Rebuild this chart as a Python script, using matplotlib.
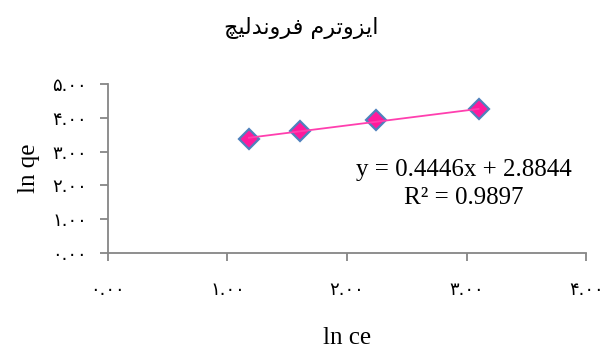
import numpy as np
import matplotlib
matplotlib.use("Agg")
from matplotlib import pyplot as plt
from matplotlib.ticker import FixedLocator

# data
ln_ce = [1.18, 1.61, 2.24, 3.10]
ln_qe = [3.38, 3.62, 3.92, 4.25]
slope = 0.4446
intercept = 2.8844
r_squared = 0.9897

x_ticks = [0, 1, 2, 3, 4]
y_ticks = [0, 1, 2, 3, 4, 5]

# title "ایزوترم فروندلیچ" written with arabic presentation forms, in visual order
title_forms = "\uFE8D\uFBFE\uFEB0\uFEED\uFE97\uFEAE\uFEE1 \uFED3\uFEAE\uFEED\uFEE7\uFEAA\uFEDF\uFBFF\uFB7B"
title_text = title_forms[::-1]

PERSIAN_DIGITS = "۰۱۲۳۴۵۶۷۸۹"


def persian_label(v):
    s = "%.2f" % v
    return "".join(PERSIAN_DIGITS[int(c)] if c.isdigit() else c for c in s)


fig = plt.figure(figsize=(6.03, 3.47), dpi=100)
ax = fig.add_axes([0.179, 0.271, 0.793, 0.487])

fit_x = np.array([ln_ce[0], ln_ce[-1]])
ax.plot(fit_x, slope * fit_x + intercept, color="#FF3FAF", lw=1.3, zorder=3)
ax.plot(ln_ce, ln_qe, ls="none", marker="D", ms=10, mfc="#FF1A9C",
        mec="#4F81BD", mew=1.6, zorder=2)

ax.set_xlim(0, 4)
ax.set_ylim(0, 5)
ax.xaxis.set_major_locator(FixedLocator(x_ticks))
ax.yaxis.set_major_locator(FixedLocator(y_ticks))
ax.set_xticklabels([persian_label(v) for v in x_ticks])
ax.set_yticklabels([persian_label(v) for v in y_ticks])

for side in ["top", "right"]:
    ax.spines[side].set_visible(False)
for side in ["left", "bottom"]:
    ax.spines[side].set_color("#868686")
    ax.spines[side].set_linewidth(1.3)
ax.tick_params(colors="#868686", width=1.3, length=6, labelcolor="black",
               labelsize=13)
ax.tick_params(axis="x", pad=14)
ax.tick_params(axis="y", pad=9)
for lab in ax.get_xticklabels() + ax.get_yticklabels():
    lab.set_family(["DejaVu Sans"])

ax.set_xlabel("ln ce", family="Liberation Serif", fontsize=18, labelpad=20)
ax.set_ylabel("ln qe", family="Liberation Serif", fontsize=18, labelpad=9)

eq = "y = %.4fx + %.4f\nR\u00b2 = %.4f" % (slope, intercept, r_squared)
ax.text(2.98, 2.04, eq, family="Liberation Serif", fontsize=18,
        ha="center", va="center", linespacing=1.3)

fig.text(0.5, 0.92, title_text, family=["DejaVu Sans"], fontsize=16,
         ha="center", va="center")

fig.savefig("out.png", dpi=100)
